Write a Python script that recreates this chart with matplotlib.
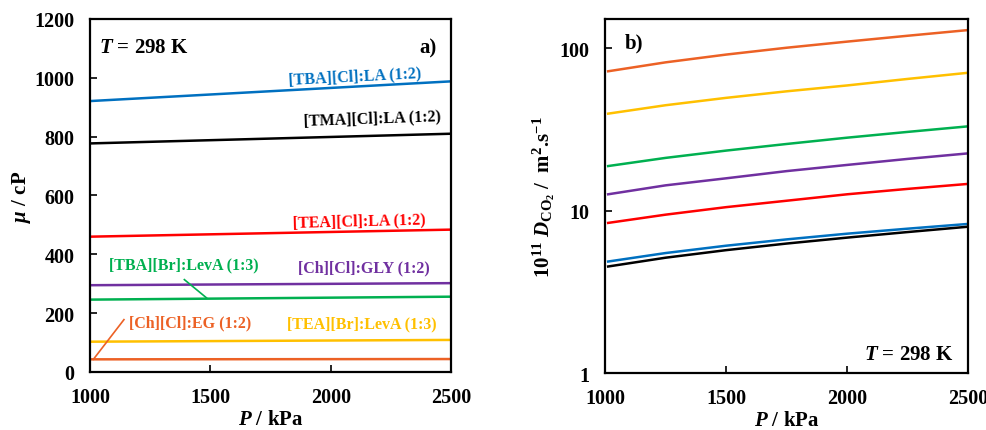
import numpy as np
import matplotlib
matplotlib.use("Agg")
import matplotlib.pyplot as plt

plt.rcParams['font.family'] = ['Liberation Serif', 'DejaVu Serif']
plt.rcParams['font.weight'] = 'bold'
plt.rcParams['axes.labelweight'] = 'bold'
plt.rcParams['mathtext.fontset'] = 'custom'
plt.rcParams['mathtext.rm'] = 'Liberation Serif:bold'
plt.rcParams['mathtext.it'] = 'Liberation Serif:italic:bold'
plt.rcParams['mathtext.bf'] = 'Liberation Serif:bold'

# panel a) viscosity vs pressure
p_a = [1000, 2500]
mu = {
    "[TBA][Cl]:LA (1:2)": [921, 988],
    "[TMA][Cl]:LA (1:2)": [777, 810],
    "[TEA][Cl]:LA (1:2)": [460, 484],
    "[Ch][Cl]:GLY (1:2)": [295, 302],
    "[TBA][Br]:LevA (1:3)": [246, 256],
    "[TEA][Br]:LevA (1:3)": [103, 109],
    "[Ch][Cl]:EG (1:2)": [43, 44],
}

# panel b) diffusivity vs pressure
p_b = [1013, 1250, 1500, 1750, 2000, 2250, 2500]
dco2 = {
    "[Ch][Cl]:EG (1:2)": [72, 81.7, 91.2, 100.5, 109.6, 119.1, 129.1],
    "[TEA][Br]:LevA (1:3)": [39.5, 44.5, 49.4, 54.2, 58.9, 64.6, 70.5],
    "[TBA][Br]:LevA (1:3)": [18.8, 21.1, 23.4, 25.7, 28.1, 30.5, 33.0],
    "[Ch][Cl]:GLY (1:2)": [12.6, 14.3, 15.8, 17.5, 19.1, 20.8, 22.5],
    "[TEA][Cl]:LA (1:2)": [8.4, 9.44, 10.5, 11.5, 12.6, 13.6, 14.6],
    "[TBA][Cl]:LA (1:2)": [4.86, 5.48, 6.08, 6.65, 7.21, 7.74, 8.28],
    "[TMA][Cl]:LA (1:2)": [4.53, 5.13, 5.71, 6.27, 6.82, 7.38, 7.96],
}

colors = {
    "[TBA][Cl]:LA (1:2)": "#0070C0",
    "[TMA][Cl]:LA (1:2)": "#000000",
    "[TEA][Cl]:LA (1:2)": "#FF0000",
    "[Ch][Cl]:GLY (1:2)": "#7030A0",
    "[TBA][Br]:LevA (1:3)": "#00B050",
    "[TEA][Br]:LevA (1:3)": "#FFC000",
    "[Ch][Cl]:EG (1:2)": "#EC6125",
}

# label anchor points (P, mu) and rotation for panel a
label_pos = {
    "[TBA][Cl]:LA (1:2)": (2101, 1006, 3),
    "[TMA][Cl]:LA (1:2)": (2174, 863, 2),
    "[TEA][Cl]:LA (1:2)": (2118, 514, 1.5),
    "[Ch][Cl]:GLY (1:2)": (2138, 356, 0),
    "[TBA][Br]:LevA (1:3)": (1391, 367, 0),
    "[TEA][Br]:LevA (1:3)": (2129, 165, 0),
    "[Ch][Cl]:EG (1:2)": (1417, 169, 0),
}

fig = plt.figure(figsize=(9.87, 4.31), dpi=100)
ax1 = fig.add_axes([0.0912, 0.1346, 0.3658, 0.819])
ax2 = fig.add_axes([0.613, 0.132, 0.368, 0.8216])

for name, vals in mu.items():
    ax1.plot(p_a, vals, color=colors[name], lw=1.8)
    x, y, rot = label_pos[name]
    ax1.text(x, y, name, color=colors[name], fontsize=11.5, ha='center',
             va='center', rotation=rot, fontweight='bold')

# leader lines
ax1.plot([1392, 1484], [314, 252], color=colors["[TBA][Br]:LevA (1:3)"], lw=1.2)
ax1.plot([1141, 1014], [178, 43], color=colors["[Ch][Cl]:EG (1:2)"], lw=1.2)

ax1.set_xlim(1000, 2500)
ax1.set_ylim(0, 1200)
ax1.set_xticks([1000, 1500, 2000, 2500])
ax1.set_yticks(range(0, 1201, 200))
ax1.set_xlabel(r"$\mathit{P}$ / kPa", fontsize=15, labelpad=1)
ax1.set_ylabel(r"$\mathit{\mu}$ / cP", fontsize=15, labelpad=1)
ax1.text(0.025, 0.92, r"$\mathit{T}$ = 298 K", transform=ax1.transAxes,
         fontsize=15, va='center')
ax1.text(0.935, 0.92, "a)", transform=ax1.transAxes, fontsize=15,
         va='center', ha='center')

for name, vals in dco2.items():
    ax2.plot(p_b, vals, color=colors[name], lw=1.8)

ax2.set_yscale('log')
ax2.set_xlim(1000, 2500)
ax2.set_ylim(1, 151)
ax2.set_xticks([1000, 1500, 2000, 2500])
ax2.set_yticks([1, 10, 100])
ax2.set_yticklabels(["1", "10", "100"])
ax2.minorticks_off()
ax2.set_xlabel(r"$\mathit{P}$ / kPa", fontsize=15, labelpad=1)
ax2.set_ylabel(r"10$^{11}$ $\mathit{D}_{\mathrm{CO_2}}$ /  m$^{2}$.s$^{-1}$",
               fontsize=15, labelpad=2)
ax2.text(0.08, 0.935, "b)", transform=ax2.transAxes, fontsize=15,
         va='center', ha='center')
ax2.text(0.96, 0.055, r"$\mathit{T}$ = 298 K", transform=ax2.transAxes,
         fontsize=15, va='center', ha='right')

for ax in (ax1, ax2):
    ax.tick_params(direction='in', length=5, width=1.2, labelsize=14.5,
                   top=False, right=False)
    ax.tick_params(axis='x', pad=11)
    ax.tick_params(axis='y', pad=11)
    for lab in ax.get_xticklabels() + ax.get_yticklabels():
        lab.set_fontweight('bold')
    for sp in ax.spines.values():
        sp.set_linewidth(1.6)

fig.savefig("out.png", dpi=100)
